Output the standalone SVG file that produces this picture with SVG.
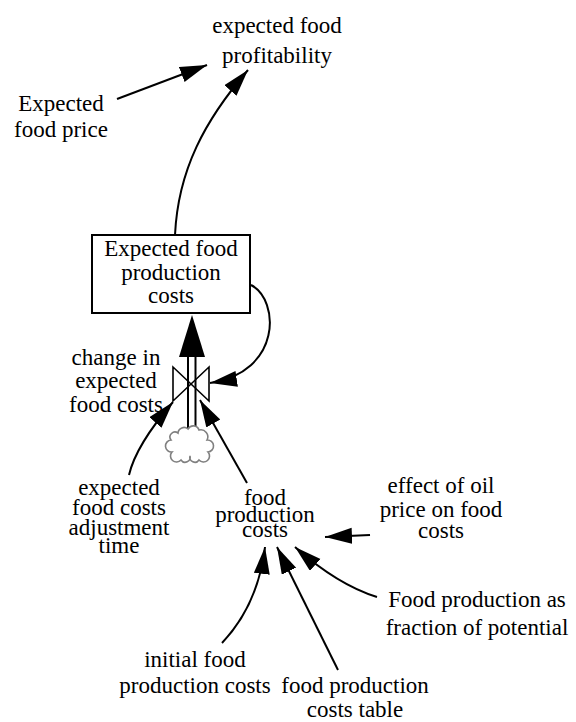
<svg xmlns="http://www.w3.org/2000/svg" width="576" height="722" viewBox="0 0 576 722">
  <style>
    text { font-family: "Liberation Serif", "Times New Roman", serif; font-size: 23px; fill: #000; text-anchor: middle; }
    .link { fill: none; stroke: #000; stroke-width: 2; marker-end: url(#head); }
    .pipe { stroke: #000; stroke-width: 2; fill: none; }
    .valve { fill: none; stroke: #000; stroke-width: 1.6; }
    .stock { fill: #fff; stroke: #000; stroke-width: 2; }
    .cloud { fill: #fff; stroke: #808080; stroke-width: 1.6; }
  </style>
  <defs>
    <marker id="head" markerUnits="userSpaceOnUse" markerWidth="28" markerHeight="18" refX="27" refY="8" orient="auto">
      <path d="M0,0 L27,8 L0,16 z" fill="#000"/>
    </marker>
  </defs>

  <rect width="576" height="722" fill="#fff"/>

  <!-- connectors -->
  <g id="connectors">
    <path class="link" d="M117,99 L207,65"/>
    <path class="link" d="M175,235 C178,170 205,120 248,70"/>
    <path class="link" d="M251,285 C280,300 282,372 210,383"/>
    <path class="link" d="M129,475 Q136,445 173,402"/>
    <path class="link" d="M247,483 L200,400"/>
    <path class="link" d="M370,535 L325,537"/>
    <path class="link" d="M377,597 Q338,585 295,547"/>
    <path class="link" d="M222,643 Q258,605 265,547"/>
    <path class="link" d="M338,670 L277,547"/>
  </g>

  <!-- flow: pipe from cloud into the stock, with valve -->
  <g id="flow">
    <line class="pipe" x1="188" y1="357" x2="188" y2="431"/>
    <line class="pipe" x1="195.5" y1="357" x2="195.5" y2="431"/>
    <polygon points="192,315 179,357 205,357" fill="#000"/>
    <path id="cloud" class="cloud" d="M178,433 A6,6 0 0 1 188,429 A6,6 0 0 1 199,430 A7,7 0 0 1 207,440 A6,6 0 0 1 208,452 A6,6 0 0 1 199,460 A5,5 0 0 1 190,456 A5,5 0 0 1 181,460 A6,6 0 0 1 172,452 A6,6 0 0 1 171,440 A5,5 0 0 1 178,433 z"/>
    <path id="valve" class="valve" d="M173,367 L173,401 L209,367 L209,401 Z"/>
  </g>

  <g id="expected_food_profitability">
    <text x="277" y="33">expected food</text>
    <text x="277" y="63">profitability</text>
  </g>

  <g id="expected_food_price">
    <text x="61" y="111">Expected</text>
    <text x="61" y="137">food price</text>
  </g>

  <g id="expected_food_production_costs">
    <rect class="stock" x="92" y="235" width="158" height="78"/>
    <text x="171" y="256">Expected food</text>
    <text x="171" y="280">production</text>
    <text x="171" y="303">costs</text>
  </g>

  <g id="change_in_expected_food_costs">
    <text x="116" y="365">change in</text>
    <text x="116" y="388">expected</text>
    <text x="116" y="412">food costs</text>
  </g>

  <g id="expected_food_costs_adjustment_time">
    <text x="119" y="495">expected</text>
    <text x="119" y="515">food costs</text>
    <text x="119" y="535">adjustment</text>
    <text x="119" y="553">time</text>
  </g>

  <g id="food_production_costs">
    <text x="265" y="505">food</text>
    <text x="265" y="522">production</text>
    <text x="265" y="537">costs</text>
  </g>

  <g id="effect_of_oil_price_on_food_costs">
    <text x="441" y="493">effect of oil</text>
    <text x="441" y="517">price on food</text>
    <text x="441" y="538">costs</text>
  </g>

  <g id="food_production_as_fraction_of_potential">
    <text x="477" y="607">Food production as</text>
    <text x="477" y="635">fraction of potential</text>
  </g>

  <g id="initial_food_production_costs">
    <text x="195" y="667">initial food</text>
    <text x="195" y="693">production costs</text>
  </g>

  <g id="food_production_costs_table">
    <text x="355" y="693">food production</text>
    <text x="355" y="717">costs table</text>
  </g>
</svg>
